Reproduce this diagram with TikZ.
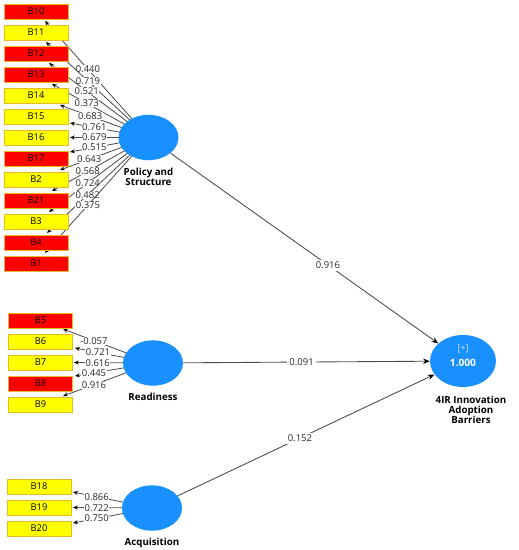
\documentclass[tikz,border=0pt]{standalone}
\usepackage{fontspec}
\setmainfont{Open Sans}
\usetikzlibrary{arrows.meta,shapes.geometric}
\pgfdeclarelayer{bg}
\pgfsetlayers{bg,main}
\definecolor{lvblue}{RGB}{24,144,255}
\definecolor{bred}{RGB}{255,0,0}
\definecolor{byel}{RGB}{255,255,0}
\definecolor{bedge}{RGB}{232,186,40}
\definecolor{lngray}{RGB}{75,75,75}
\begin{document}
\begin{tikzpicture}[x=0.75pt,y=-0.75pt,
  lv/.style={ellipse,fill=lvblue,inner sep=0pt,minimum width=45pt,minimum height=34pt},
  lvlab/.style={font=\fontsize{7.3}{7.6}\selectfont\bfseries,align=center,label distance=1pt},
  rbox/.style={rectangle,fill=bred,draw=bedge,line width=0.5pt,minimum width=48pt,minimum height=11.25pt,inner sep=0pt,font=\fontsize{7}{7}\selectfont},
  ybox/.style={rbox,fill=byel},
  ld/.style={draw=lngray,line width=0.6pt,-{Stealth[length=3.6pt,width=3pt,black]}},
  st/.style={draw=lngray,line width=0.65pt,-{Stealth[length=5pt,width=4pt,black]}},
  val/.style={fill=white,inner sep=0.4pt,font=\fontsize{7.1}{7.5}\selectfont,text=black!85}]
\useasboundingbox (0,0) rectangle (518,550);

% latent variables
\node[lv] (P) at (148.5,137.5) {};
\node[lvlab] at (P.south) [below=2pt] (Plab) {Policy and\\Structure};
\node[lv] (R) at (153,363) {};
\node[lvlab] at (R.south) [below=2pt] (Rlab) {Readiness};
\node[lv] (A) at (152,508) {};
\node[lvlab] at (A.south) [below=2pt] (Alab) {Acquisition};
\node[lv,minimum width=49.5pt,minimum height=39pt,text=white] (T) at (463,361)
  {\raisebox{-4pt}[0pt][0pt]{\shortstack{{\fontsize{7}{7}\selectfont\color{white!75!lvblue}[+]}\\[1.5pt]{\fontsize{7.6}{8}\selectfont\bfseries 1.000}}}};
\node[lvlab] at (T.south) [below=3pt,xshift=6pt] (Tlab) {4IR Innovation\\Adoption\\Barriers};

% indicator boxes: policy and structure
\node[rbox] (B10) at (36,11.5) {B10};
\node[ybox] (B11) at (36,32.5) {B11};
\node[rbox] (B12) at (36,53.5) {B12};
\node[rbox] (B13) at (36,74.5) {B13};
\node[ybox] (B14) at (36,95.5) {B14};
\node[ybox] (B15) at (36,116.5) {B15};
\node[ybox] (B16) at (36,137.5) {B16};
\node[rbox] (B17) at (36,158.5) {B17};
\node[ybox] (B2) at (36,179.5) {B2};
\node[rbox] (B21) at (36,200.5) {B21};
\node[ybox] (B3) at (36,221.5) {B3};
\node[rbox] (B4) at (36,242.5) {B4};
\node[rbox] (B1) at (36,263.5) {B1};
% readiness
\node[rbox] (B5) at (40.5,320.5) {B5};
\node[ybox] (B6) at (40.5,341.5) {B6};
\node[ybox] (B7) at (40.5,362.5) {B7};
\node[rbox] (B8) at (40.5,383.5) {B8};
\node[ybox] (B9) at (40.5,404.5) {B9};
% acquisition
\node[ybox] (B18) at (39,486.5) {B18};
\node[ybox] (B19) at (39,507.5) {B19};
\node[ybox] (B20) at (39,528.5) {B20};

% arrow tips
\coordinate (h10) at (45,21);
\coordinate (h11) at (46,42);
\coordinate (h12) at (49,63);
\coordinate (h13) at (52,84);
\coordinate (h14) at (60,105);
\coordinate (h15) at (70,123);
\coordinate (h16) at (70,137.5);
\coordinate (h17) at (70,152);
\coordinate (h2) at (60,170);
\coordinate (h21) at (52,191);
\coordinate (h3) at (49,212);
\coordinate (h4) at (47,233);
\coordinate (h1) at (45,253);
\coordinate (h5) at (63,329);
\coordinate (h6) at (75,348);
\coordinate (h7) at (74,362.5);
\coordinate (h8) at (75,376);
\coordinate (h9) at (63,396);
\coordinate (h18) at (73,492);
\coordinate (h19) at (73,507.5);
\coordinate (h20) at (73,523);

\begin{pgfonlayer}{bg}
\draw[ld] (P.center) -- node[val,pos=.585]{0.440} (h10);
\draw[ld] (P.center) -- node[val,pos=.59]{0.719} (h11);
\draw[ld] (P.center) -- node[val,pos=.62]{0.521} (h12);
\draw[ld] (P.center) -- node[val,pos=.64]{0.373} (h13);
\draw[ld] (P.center) -- node[val,pos=.66]{0.683} (h14);
\draw[ld] (P.center) -- node[val,pos=.69]{0.761} (h15);
\draw[ld] (P.center) -- node[val,pos=.69]{0.679} (h16);
\draw[ld] (P.center) -- node[val,pos=.69]{0.515} (h17);
\draw[ld] (P.center) -- node[val,pos=.67]{0.643} (h2);
\draw[ld] (P.center) -- node[val,pos=.63]{0.568} (h21);
\draw[ld] (P.center) -- node[val,pos=.61]{0.724} (h3);
\draw[ld] (P.center) -- node[val,pos=.60]{0.482} (h4);
\draw[ld] (P.center) -- node[val,pos=.585]{0.375} (h1);
\draw[ld] (R.center) -- node[val,pos=.656]{-0.057} (h5);
\draw[ld] (R.center) -- node[val,pos=.705]{0.721} (h6);
\draw[ld] (R.center) -- node[val,pos=.70]{0.616} (h7);
\draw[ld] (R.center) -- node[val,pos=.756]{0.445} (h8);
\draw[ld] (R.center) -- node[val,pos=.656]{0.916} (h9);
\draw[ld] (A.center) -- node[val,pos=.70]{0.866} (h18);
\draw[ld] (A.center) -- node[val,pos=.70]{0.722} (h19);
\draw[ld] (A.center) -- node[val,pos=.70]{0.750} (h20);
\end{pgfonlayer}

% structural paths
\draw[st] (P) -- node[val,pos=.588,inner sep=1.5pt]{0.916} (T);
\draw[st] (R) -- node[val,pos=.48,inner sep=1.5pt]{0.091} (T);
\draw[st] (A) -- node[val,pos=.476,inner sep=1.5pt]{0.152} (T);
\end{tikzpicture}
\end{document}
